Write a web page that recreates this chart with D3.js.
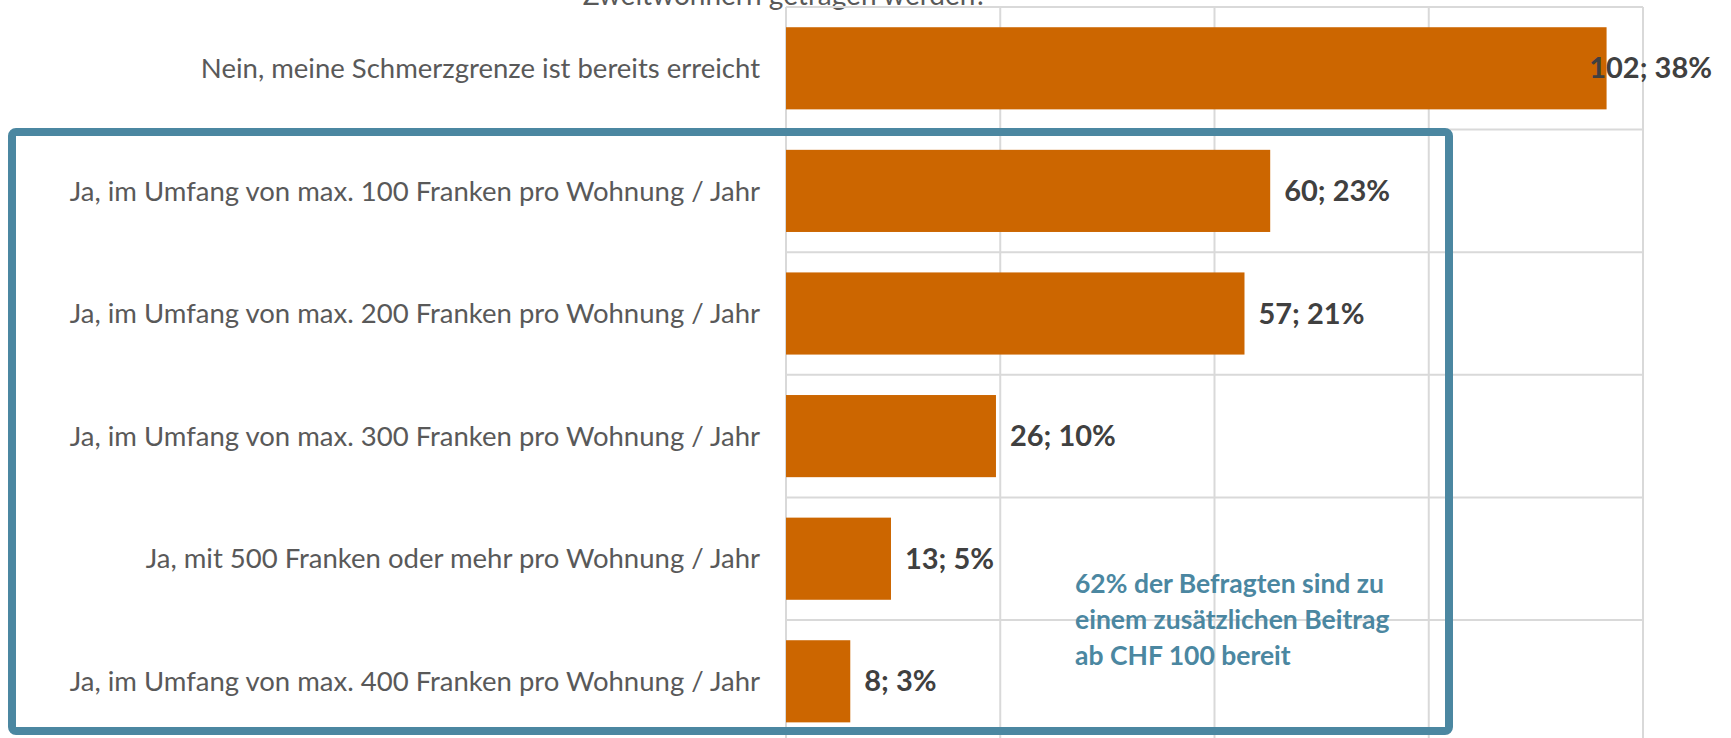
<!DOCTYPE html>
<html>
<head>
<meta charset="utf-8">
<script src="https://cdn.jsdelivr.net/npm/d3@7"></script>
<style>
  body { margin: 0; background: #fff; }
  svg { display: block; font-family: Lato, "Noto Sans", sans-serif; }
</style>
</head>
<body>
<div id="chart"></div>
<script>
// data
const categories = [
    "Nein, meine Schmerzgrenze ist bereits erreicht",
    "Ja, im Umfang von max. 100 Franken pro Wohnung / Jahr",
    "Ja, im Umfang von max. 200 Franken pro Wohnung / Jahr",
    "Ja, im Umfang von max. 300 Franken pro Wohnung / Jahr",
    "Ja, mit 500 Franken oder mehr pro Wohnung / Jahr",
    "Ja, im Umfang von max. 400 Franken pro Wohnung / Jahr"
];
const counts = [102, 60, 57, 26, 13, 8];
const shares = [38.3, 22.6, 21.4, 9.8, 4.9, 3.0];
const shareLabels = ["38%", "23%", "21%", "10%", "5%", "3%"];
const gridTicks = [0, 10, 20, 30, 40];
const titleText = "Zweitwohnern getragen werden?";
const noteLines = [
    "62% der Befragten sind zu",
    "einem zusätzlichen Beitrag",
    "ab CHF 100 bereit"
];

const rows = categories.map((c, i) => ({ name: c, count: counts[i], share: shares[i], label: counts[i] + "; " + shareLabels[i] }));

// dimensions
const width = 1731,
    height = 738;

const svg = d3.select("#chart")
    .append("svg")
    .attr("width", width)
    .attr("height", height);

// scales
const x = d3.scaleLinear()
    .domain([0, 40])
    .range([786, 1643]);

const y = d3.scaleBand()
    .domain(categories)
    .range([7, 7 + 6 * 122.6])
    .paddingInner(0.33)
    .paddingOuter(0.165);

const step = y.step();

// title (cut off at the top, as in the source)
svg.append("text")
    .attr("x", 785)
    .attr("y", 5)
    .attr("text-anchor", "middle")
    .attr("fill", "#595959")
    .style("font-size", "28px")
    .text(titleText);

// vertical gridlines
svg.append("g")
    .selectAll("line")
    .data(gridTicks)
    .enter()
    .append("line")
    .attr("x1", d => x(d))
    .attr("x2", d => x(d))
    .attr("y1", y.range()[0])
    .attr("y2", y.range()[1])
    .attr("stroke", "#d9d9d9")
    .attr("stroke-width", 2);

// horizontal lines between categories
svg.append("g")
    .selectAll("line")
    .data(d3.range(categories.length + 1))
    .enter()
    .append("line")
    .attr("x1", x(0))
    .attr("x2", x(40))
    .attr("y1", i => y.range()[0] + i * step)
    .attr("y2", i => y.range()[0] + i * step)
    .attr("stroke", "#d9d9d9")
    .attr("stroke-width", 2);

// bars
svg.append("g")
    .selectAll("rect")
    .data(rows)
    .enter()
    .append("rect")
    .attr("x", x(0))
    .attr("y", d => y(d.name))
    .attr("width", d => x(d.share) - x(0))
    .attr("height", y.bandwidth())
    .attr("fill", "#cc6600");

// category labels
svg.append("g")
    .selectAll("text")
    .data(rows)
    .enter()
    .append("text")
    .attr("x", x(0) - 26)
    .attr("y", d => y(d.name) + y.bandwidth() / 2)
    .attr("dy", "0.35em")
    .attr("text-anchor", "end")
    .attr("fill", "#595959")
    .style("font-size", "27.5px")
    .text(d => d.name);

// value labels, kept inside the chart area
const maxRight = 1712;
svg.append("g")
    .selectAll("text")
    .data(rows)
    .enter()
    .append("text")
    .attr("y", d => y(d.name) + y.bandwidth() / 2)
    .attr("dy", "0.35em")
    .attr("fill", "#404040")
    .style("font-size", "29px")
    .style("font-weight", "bold")
    .text(d => d.label)
    .attr("x", function (d) {
        const w = this.getComputedTextLength();
        return Math.min(x(d.share) + 14, maxRight - w);
    });

// highlight box
svg.append("rect")
    .attr("x", 12)
    .attr("y", 132)
    .attr("width", 1449 - 12)
    .attr("height", 731 - 132)
    .attr("rx", 4)
    .attr("fill", "none")
    .attr("stroke", "#4b87a1")
    .attr("stroke-width", 8);

// note
svg.append("g")
    .selectAll("text")
    .data(noteLines)
    .enter()
    .append("text")
    .attr("x", 1075)
    .attr("y", (d, i) => 593 + i * 36)
    .attr("fill", "#4b87a1")
    .style("font-size", "26.5px")
    .style("font-weight", "bold")
    .text(d => d);
</script>
</body>
</html>
